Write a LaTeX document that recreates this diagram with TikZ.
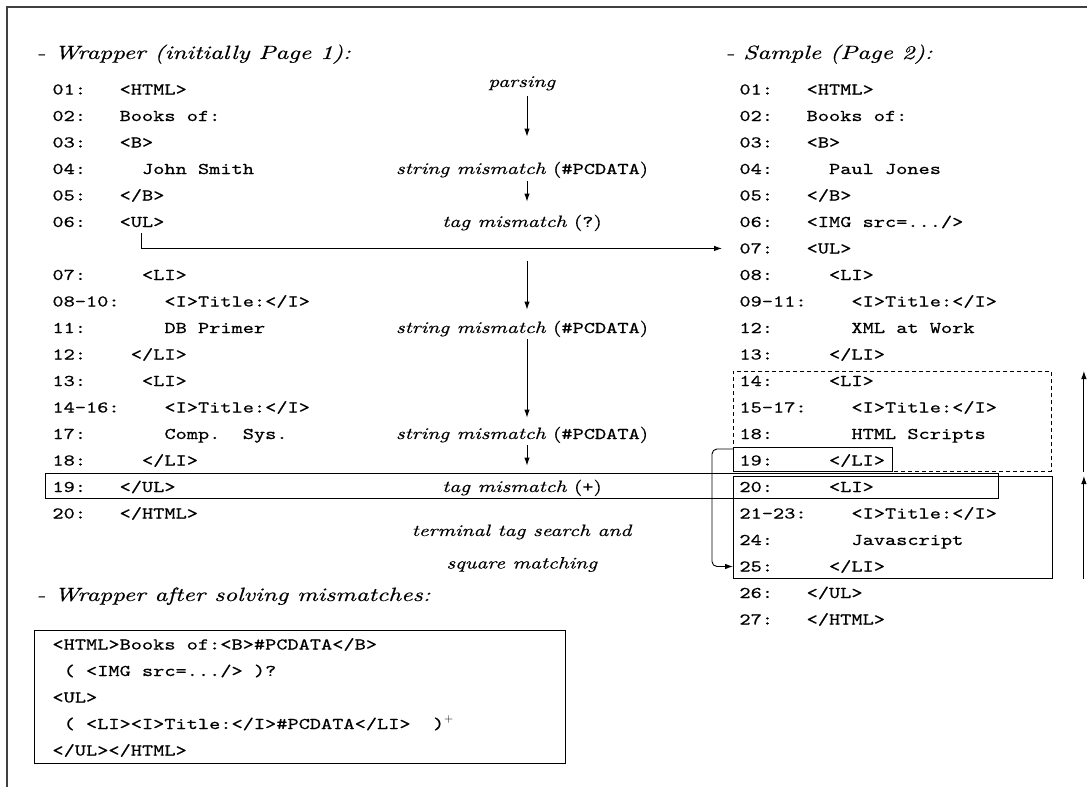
\documentclass[tikz,border=0pt]{standalone}
\usepackage{fontspec}
\setmainfont{lmroman10-regular.otf}[ItalicFont=lmroman10-italic.otf, FakeStretch=1.3, FakeBold=0.4]
\setmonofont{lmmono10-regular.otf}[FakeStretch=1.3, FakeBold=0.6]
\usetikzlibrary{arrows.meta}
\newdimen\cw \cw=11.2pt
\newcommand{\lno}[1]{\makebox[6\cw][l]{#1}}
\newcommand{\ind}[1]{\hspace*{#1\cw}}
\tikzset{
  code/.style={font=\ttfamily\fontsize{16.4}{19}\selectfont, anchor=base west, inner sep=0pt},
  note/.style={font=\fontsize{16.4}{19}\selectfont, anchor=base, inner sep=0pt},
  head/.style={font=\itshape\fontsize{19.2}{23}\selectfont, anchor=base west, inner sep=0pt},
  hl/.style={draw, inner sep=0pt, anchor=north west},
}

\begin{document}
\begin{tikzpicture}[x=1pt, y=-1pt, line width=0.9pt, >={Latex[length=8pt,width=5.5pt]}]
    \useasboundingbox (0,0) rectangle (1087,787);
    \draw[line width=1.1pt, black!75] (7,787) -- (7,7) -- (1087,7);

    % headings
    \node[head] (hwrap) at (36,59) {- Wrapper (initially Page 1):};
    \node[head] (hsamp) at (725,59) {- Sample (Page 2):};
    \node[head] (hafter) at (36,601) {- Wrapper after solving mismatches:};

    % wrapper (page 1)
    \node[code] (w01) at (52,94.5) {\lno{01:}<HTML>};
    \node[code] (w02) at (52,121) {\lno{02:}Books of:};
    \node[code] (w03) at (52,147.5) {\lno{03:}<B>};
    \node[code] (w04) at (52,174) {\lno{04:}\ind{2}John Smith};
    \node[code] (w05) at (52,200.5) {\lno{05:}</B>};
    \node[code] (w06) at (52,227) {\lno{06:}<UL>};
    \node[code] (w07) at (52,280) {\lno{07:}\ind{2}<LI>};
    \node[code] (w08) at (52,306.5) {\lno{08-10:}\ind{4}<I>Title:</I>};
    \node[code] (w11) at (52,333) {\lno{11:}\ind{4}DB Primer};
    \node[code] (w12) at (52,359.5) {\lno{12:}\ind{1}</LI>};
    \node[code] (w13) at (52,386) {\lno{13:}\ind{2}<LI>};
    \node[code] (w14) at (52,412.5) {\lno{14-16:}\ind{4}<I>Title:</I>};
    \node[code] (w17) at (52,439) {\lno{17:}\ind{4}Comp.~~Sys.};
    \node[code] (w18) at (52,465.5) {\lno{18:}\ind{2}</LI>};
    \node[code] (w19) at (52,492) {\lno{19:}</UL>};
    \node[code] (w20) at (52,518.5) {\lno{20:}</HTML>};

    % sample (page 2)
    \node[code] (s01) at (739,94.5) {\lno{01:}<HTML>};
    \node[code] (s02) at (739,121) {\lno{02:}Books of:};
    \node[code] (s03) at (739,147.5) {\lno{03:}<B>};
    \node[code] (s04) at (739,174) {\lno{04:}\ind{2}Paul Jones};
    \node[code] (s05) at (739,200.5) {\lno{05:}</B>};
    \node[code] (s06) at (739,227) {\lno{06:}<IMG src=.../>};
    \node[code] (s07) at (739,253.5) {\lno{07:}<UL>};
    \node[code] (s08) at (739,280) {\lno{08:}\ind{2}<LI>};
    \node[code] (s09) at (739,306.5) {\lno{09-11:}\ind{4}<I>Title:</I>};
    \node[code] (s12) at (739,333) {\lno{12:}\ind{4}XML at Work};
    \node[code] (s13) at (739,359.5) {\lno{13:}\ind{2}</LI>};
    \node[code] (s14) at (739,386) {\lno{14:}\ind{2}<LI>};
    \node[code] (s15) at (739,412.5) {\lno{15-17:}\ind{4}<I>Title:</I>};
    \node[code] (s18) at (739,439) {\lno{18:}\ind{4}HTML Scripts};
    \node[code] (s19) at (739,465.5) {\lno{19:}\ind{2}</LI>};
    \node[code] (s20) at (739,492) {\lno{20:}\ind{2}<LI>};
    \node[code] (s21) at (739,518.5) {\lno{21-23:}\ind{4}<I>Title:</I>};
    \node[code] (s24) at (739,545) {\lno{24:}\ind{4}Javascript};
    \node[code] (s25) at (739,571.5) {\lno{25:}\ind{2}</LI>};
    \node[code] (s26) at (739,598) {\lno{26:}</UL>};
    \node[code] (s27) at (739,624.5) {\lno{27:}</HTML>};

    % highlighted blocks
    \node[hl, dash pattern=on 4pt off 3pt, minimum width=318, minimum height=100] (grp1) at (733,371) {};
    \node[hl, minimum width=319, minimum height=102] (grp2) at (733,476) {};
    \node[hl, minimum width=159, minimum height=24] (end19) at (733,447) {};
    \node[hl, minimum width=953, minimum height=25] (tagrow) at (45,473) {};

    % matching steps
    \node[note] (parse) at (522,87) {\textit{parsing}};
    \node[note] (sm1) at (522,174) {\textit{string mismatch} (\texttt{\#PCDATA})};
    \node[note] (tm1) at (522,227) {\textit{tag mismatch} (\texttt{?})};
    \node[note] (sm2) at (522,333) {\textit{string mismatch} (\texttt{\#PCDATA})};
    \node[note] (sm3) at (522,439) {\textit{string mismatch} (\texttt{\#PCDATA})};
    \node[note] (tm2) at (522,492) {\textit{tag mismatch} (\texttt{+})};
    \node[note] (term1) at (522,536) {\textit{terminal tag search and}};
    \node[note] (term2) at (522,568.5) {\textit{square matching}};

    \draw[->] ([xshift=5pt,yshift=-5.6pt]parse.south) -- ([xshift=5pt,yshift=24.7pt]sm1.north);
    \draw[->] ([xshift=5pt,yshift=-2.9pt]sm1.south) -- ([xshift=5pt,yshift=12.7pt]tm1.north);
    \draw[->] ([xshift=5pt,yshift=-29pt]tm1.south) -- ([xshift=5pt,yshift=10.7pt]sm2.north);
    \draw[->] ([xshift=5pt,yshift=-1.9pt]sm2.south) -- ([xshift=5pt,yshift=8.7pt]sm3.north);
    \draw[->] ([xshift=5pt,yshift=-1.9pt]sm3.south) -- ([xshift=5pt,yshift=13.7pt]tm2.north);

    % optional <IMG> and the repeated <LI> square
    \draw[->] ([xshift=89.4pt,yshift=-6pt]w06.base west) |- ([xshift=-17pt]s07.west);
    \draw[->, rounded corners=5pt] ([yshift=-2pt]end19.north west) -- ++(-21,0) |- ([xshift=-6pt]s25.west);
    \draw[->] ([xshift=32pt]grp1.south east) -- ([xshift=32pt]grp1.north east);
    \draw[->] ([xshift=31pt]grp2.south east) -- ([xshift=31pt]grp2.north east);

    % wrapper after solving mismatches
    \node[hl, minimum width=531, minimum height=133.5] (after) at (34,629.5) {};
    \node[code] (r1) at (52,649.5) {<HTML>Books of:<B>\#PCDATA</B>};
    \node[code] (r2) at (52,676) {\ind{1}( <IMG src=.../> )?};
    \node[code] (r3) at (52,702.5) {<UL>};
    \node[code] (r4) at (52,729) {\ind{1}( <LI><I>Title:</I>\#PCDATA</LI>~~)$^{+}$};
    \node[code] (r5) at (52,755.5) {</UL></HTML>};
\end{tikzpicture}
\end{document}
